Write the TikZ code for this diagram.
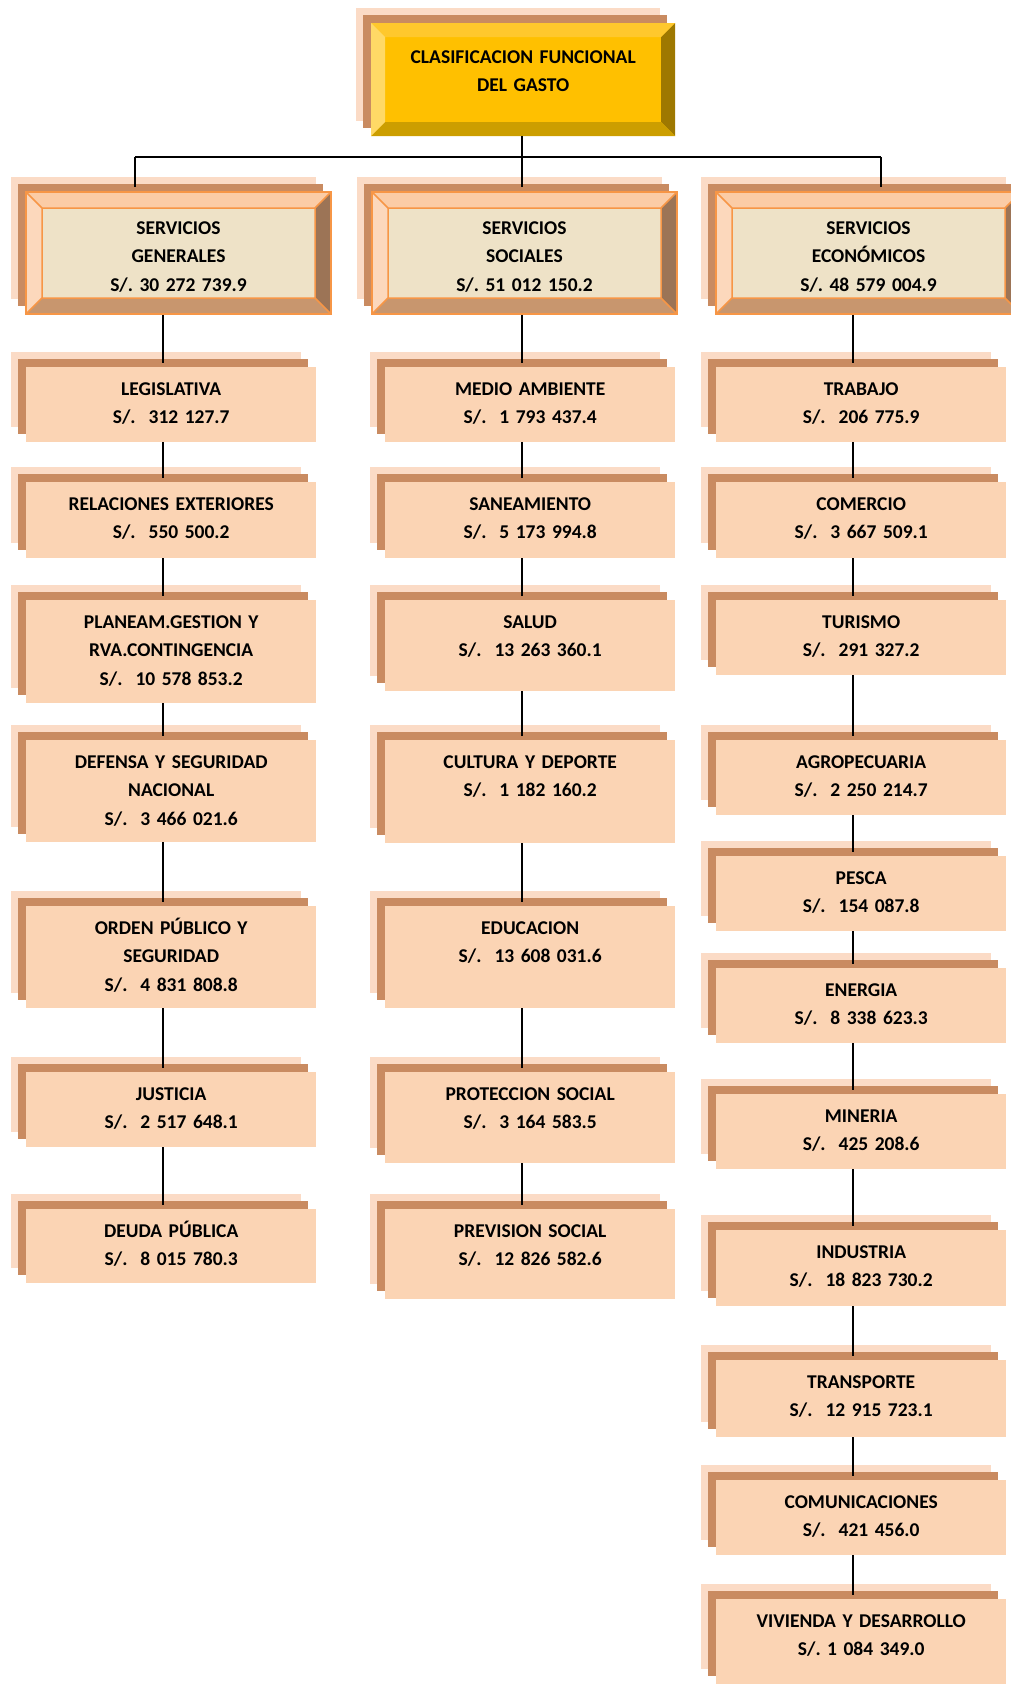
\documentclass[tikz,border=0pt]{standalone}
\usepackage{fontspec}
\setmainfont{Carlito}
\usetikzlibrary{shadows}
\definecolor{peach}{RGB}{251,212,180}
\definecolor{shadowpink}{RGB}{251,219,198}
\definecolor{shadowbrown}{RGB}{201,139,97}
\definecolor{parchment}{RGB}{238,226,199}
\definecolor{orangeline}{RGB}{247,150,70}
\definecolor{bevtop}{RGB}{251,204,166}
\definecolor{bevleft}{RGB}{252,216,188}
\definecolor{bevright}{RGB}{156,116,86}
\definecolor{bevbottom}{RGB}{200,150,110}
\definecolor{gold}{RGB}{255,192,0}
\definecolor{goldtop}{RGB}{255,200,45}
\definecolor{goldleft}{RGB}{255,217,102}
\definecolor{goldright}{RGB}{158,120,0}
\definecolor{goldbottom}{RGB}{204,158,0}
% four bevel faces: top, left, right, bottom, width
\newcommand\bevelfaces[5]{%
  \coordinate (bnw) at (path picture bounding box.north west);
  \coordinate (bne) at (path picture bounding box.north east);
  \coordinate (bsw) at (path picture bounding box.south west);
  \coordinate (bse) at (path picture bounding box.south east);
  \fill[#1] (bnw) -- (bne) -- ([shift={(-#5,-#5)}]bne) -- ([shift={(#5,-#5)}]bnw) -- cycle;
  \fill[#2] (bnw) -- ([shift={(#5,-#5)}]bnw) -- ([shift={(#5,#5)}]bsw) -- (bsw) -- cycle;
  \fill[#3] (bne) -- (bse) -- ([shift={(-#5,#5)}]bse) -- ([shift={(-#5,-#5)}]bne) -- cycle;
  \fill[#4] (bsw) -- ([shift={(#5,#5)}]bsw) -- ([shift={(-#5,#5)}]bse) -- (bse) -- cycle;}
% edges of the bevel: colour, width
\newcommand\beveledges[2]{%
  \draw[#1, line width=1.5pt] ([shift={(#2,-#2)}]bnw) rectangle ([shift={(-#2,#2)}]bse)
    (bnw) -- ([shift={(#2,-#2)}]bnw) (bne) -- ([shift={(-#2,-#2)}]bne)
    (bsw) -- ([shift={(#2,#2)}]bsw) (bse) -- ([shift={(-#2,#2)}]bse);}
\tikzset{
  layers/.style={
    general shadow={shadow xshift=-15pt, shadow yshift=15pt, draw=none, fill=shadowpink},
    general shadow={shadow xshift=-8pt, shadow yshift=8pt, draw=none, fill=shadowbrown}
  },
  leaf/.style={
    layers, fill=peach, anchor=north west, inner sep=0pt,
    text width=290pt, align=center, text height=28pt, text depth=#1
  },
  leaf/.default=47pt,
  catbox/.style={
    layers, fill=parchment, draw=orangeline, line width=2pt,
    anchor=north west, inner sep=0pt, text width=305pt, align=center,
    text height=42pt, text depth=80pt,
    path picture={\bevelfaces{bevtop}{bevleft}{bevright}{bevbottom}{16pt}\beveledges{orangeline}{16pt}}
  },
  titlebox/.style={
    layers, fill=gold, anchor=north west, inner sep=0pt,
    text width=304pt, align=center, text height=40pt, text depth=73pt,
    path picture={\bevelfaces{goldtop}{goldleft}{goldright}{goldbottom}{14pt}}
  },
  link/.style={line width=1.3pt, black, shorten >=4pt}
}
\begin{document}
\frenchspacing
\begin{tikzpicture}[x=1pt, y=-1pt, font=\fontsize{19.5}{28.5}\selectfont\bfseries]
  \useasboundingbox (0,0) rectangle (1010,1684);
  \coordinate (x1) at (163,0);
  \coordinate (x2) at (522,0);
  \coordinate (x3) at (853,0);
  \coordinate (b1) at (135,157);
  \coordinate (b3) at (881,157);
  % head and the three groups
  \node[titlebox] (clas) at (371,23) {CLASIFICACION FUNCIONAL\\DEL GASTO};
  \node[catbox] (sgen) at (25,191) {SERVICIOS\\GENERALES\\S/. 30 272 739.9};
  \node[catbox] (ssoc) at (371,191) {SERVICIOS\\SOCIALES\\S/. 51 012 150.2};
  \node[catbox] (seco) at (715,191) {SERVICIOS\\ECONÓMICOS\\S/. 48 579 004.9};
  % servicios generales
  \node[leaf] (leg) at (26,367) {LEGISLATIVA\\S/.~~312 127.7};
  \node[leaf=48pt] (rel) at (26,482) {RELACIONES EXTERIORES\\S/.~~550 500.2};
  \node[leaf=75pt] (plan) at (26,600) {PLANEAM.GESTION Y\\RVA.CONTINGENCIA\\S/.~~10 578 853.2};
  \node[leaf=74pt] (def) at (26,740) {DEFENSA Y SEGURIDAD\\NACIONAL\\S/.~~3 466 021.6};
  \node[leaf=74pt] (ord) at (26,906) {ORDEN PÚBLICO Y\\SEGURIDAD\\S/.~~4 831 808.8};
  \node[leaf] (jus) at (26,1072) {JUSTICIA\\S/.~~2 517 648.1};
  \node[leaf=46pt] (deu) at (26,1209) {DEUDA PÚBLICA\\S/.~~8 015 780.3};
  % servicios sociales
  \node[leaf] (med) at (385,367) {MEDIO AMBIENTE\\S/.~~1 793 437.4};
  \node[leaf=48pt] (san) at (385,482) {SANEAMIENTO\\S/.~~5 173 994.8};
  \node[leaf=63pt] (sal) at (385,600) {SALUD\\S/.~~13 263 360.1};
  \node[leaf=75pt] (cul) at (385,740) {CULTURA Y DEPORTE\\S/.~~1 182 160.2};
  \node[leaf=74pt] (edu) at (385,906) {EDUCACION\\S/.~~13 608 031.6};
  \node[leaf=63pt] (pro) at (385,1072) {PROTECCION SOCIAL\\S/.~~3 164 583.5};
  \node[leaf=62pt] (pre) at (385,1209) {PREVISION SOCIAL\\S/.~~12 826 582.6};
  % servicios economicos
  \node[leaf] (tra) at (716,367) {TRABAJO\\S/.~~206 775.9};
  \node[leaf=48pt] (com) at (716,482) {COMERCIO\\S/.~~3 667 509.1};
  \node[leaf] (tur) at (716,600) {TURISMO\\S/.~~291 327.2};
  \node[leaf] (agr) at (716,740) {AGROPECUARIA\\S/.~~2 250 214.7};
  \node[leaf] (pes) at (716,856) {PESCA\\S/.~~154 087.8};
  \node[leaf] (ene) at (716,968) {ENERGIA\\S/.~~8 338 623.3};
  \node[leaf] (min) at (716,1094) {MINERIA\\S/.~~425 208.6};
  \node[leaf=48pt] (ind) at (716,1230) {INDUSTRIA\\S/.~~18 823 730.2};
  \node[leaf=49pt] (trs) at (716,1360) {TRANSPORTE\\S/.~~12 915 723.1};
  \node[leaf] (cmu) at (716,1480) {COMUNICACIONES\\S/.~~421 456.0};
  \node[leaf=57pt] (viv) at (716,1599) {VIVIENDA Y DESARROLLO\\S/. 1 084 349.0};
  % connectors
  \draw[link, shorten >=0pt] (b1) -- (b3);
  \draw[link] (clas.south -| x2) -- (ssoc.north -| x2);
  \draw[link] (b1) -- (b1 |- sgen.north);
  \draw[link] (b3) -- (b3 |- seco.north);
  \foreach \a/\b in {sgen/leg, leg/rel, rel/plan, plan/def, def/ord, ord/jus, jus/deu}
    \draw[link] (\a.south -| x1) -- (\b.north -| x1);
  \foreach \a/\b in {ssoc/med, med/san, san/sal, sal/cul, cul/edu, edu/pro, pro/pre}
    \draw[link] (\a.south -| x2) -- (\b.north -| x2);
  \foreach \a/\b in {seco/tra, tra/com, com/tur, tur/agr, agr/pes, pes/ene, ene/min, min/ind, ind/trs, trs/cmu, cmu/viv}
    \draw[link] (\a.south -| x3) -- (\b.north -| x3);
\end{tikzpicture}
\end{document}
